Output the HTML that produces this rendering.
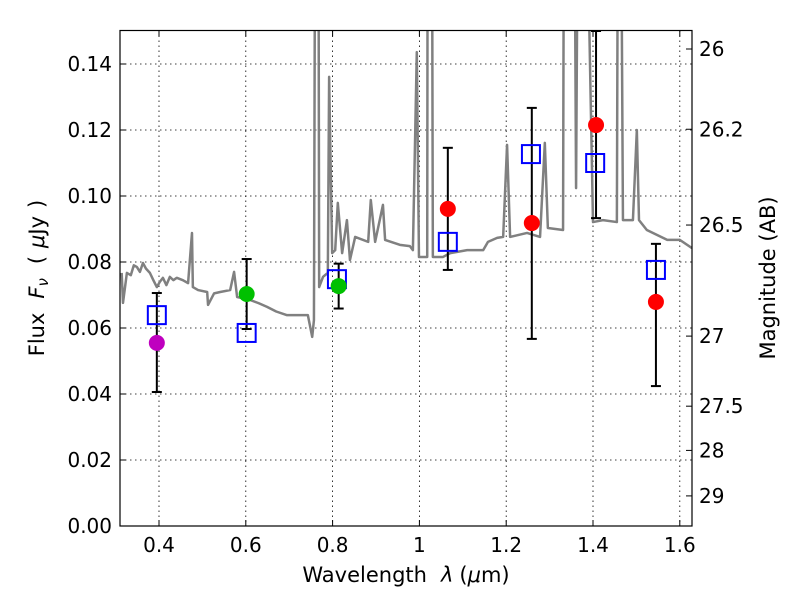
<!DOCTYPE html>
<html><head><meta charset="utf-8"><style>
body{margin:0;background:#fff;}
svg{font-family:"DejaVu Sans","Liberation Sans",sans-serif;}
</style></head><body>
<svg id="chart" width="800" height="600" xmlns="http://www.w3.org/2000/svg">
<defs><clipPath id="pc"><rect x="120" y="30.5" width="572" height="495.5"/></clipPath></defs>
<rect x="0" y="0" width="800" height="600" fill="#fff"/>
<g id="grid"></g>
<g id="spec" clip-path="url(#pc)"></g>
<g id="marks" clip-path="url(#pc)"></g>
<rect x="120" y="30.5" width="572" height="495.5" fill="none" stroke="#000" stroke-width="1.2"/>
<g id="axes"></g>
<text x="406" y="582" font-size="21" text-anchor="middle">Wavelength<tspan dx="14" font-style="italic">λ</tspan><tspan dx="6">(</tspan><tspan font-style="italic">μ</tspan>m)</text>
<text transform="translate(44,278) rotate(-90)" font-size="21" text-anchor="middle">Flux<tspan dx="14" font-style="italic">F</tspan><tspan font-style="italic" font-size="15" dy="4">ν</tspan><tspan dy="-4" dx="14">(</tspan><tspan dx="8" font-style="italic">μ</tspan>Jy<tspan dx="8">)</tspan></text>
<text transform="translate(775,278) rotate(-90)" font-size="21" text-anchor="middle">Magnitude (AB)</text>
</svg>
<script>
const xTicks=[0.4,0.6,0.8,1.0,1.2,1.4,1.6];
const xTickLabels=["0.4","0.6","0.8","1","1.2","1.4","1.6"];
const yTicks=[0,0.02,0.04,0.06,0.08,0.10,0.12,0.14];
const yTickLabels=["0.00","0.02","0.04","0.06","0.08","0.10","0.12","0.14"];
const magTicks=[26,26.2,26.5,27,27.5,28,29];
const magTickLabels=["26","26.2","26.5","27","27.5","28","29"];
const specLam=[0.314,0.317,0.326,0.335,0.342,0.349,0.356,0.363,0.370,0.379,0.387,0.395,0.402,0.409,0.417,0.425,0.433,0.441,0.455,0.467,0.476,0.478,0.490,0.511,0.513,0.527,0.541,0.564,0.573,0.580,0.610,0.630,0.649,0.670,0.695,0.743,0.753,0.757,0.762,0.766,0.769,0.778,0.789,0.792,0.799,0.806,0.812,0.822,0.833,0.840,0.852,0.882,0.888,0.898,0.916,0.921,0.955,0.978,0.985,0.994,0.999,1.018,1.020,1.027,1.031,1.054,1.071,1.110,1.147,1.158,1.179,1.193,1.202,1.209,1.248,1.278,1.289,1.296,1.331,1.335,1.347,1.353,1.361,1.370,1.400,1.423,1.455,1.460,1.469,1.492,1.501,1.506,1.524,1.571,1.600,1.628];
const specFlux=[0.0767,0.0676,0.0767,0.0760,0.0790,0.0785,0.0770,0.0797,0.0780,0.0767,0.0745,0.0724,0.0740,0.0752,0.0730,0.0755,0.0745,0.0752,0.0745,0.0736,0.0888,0.0724,0.0715,0.0709,0.0670,0.0705,0.0709,0.0715,0.0770,0.0694,0.0685,0.0675,0.0664,0.0650,0.0639,0.0639,0.0573,0.0624,0.30,0.30,0.0724,0.0755,0.0767,0.1361,0.0827,0.0836,0.0979,0.0827,0.0927,0.0806,0.0876,0.0861,0.0988,0.0861,0.0973,0.0867,0.0852,0.0848,0.0836,0.1436,0.0815,0.0815,0.30,0.30,0.0815,0.0815,0.0827,0.0836,0.0836,0.0861,0.0873,0.0876,0.1155,0.0876,0.0888,0.0876,0.1161,0.0903,0.0897,0.30,0.30,0.30,0.1024,0.30,0.0921,0.0927,0.0921,0.30,0.0927,0.0927,0.1200,0.0927,0.0897,0.0867,0.0867,0.0842];
const obsLam=[0.395,0.602,0.814,1.0655,1.259,1.407,1.545];
const obsFlux=[0.0555,0.0703,0.0727,0.0961,0.0918,0.1215,0.0679];
const obsColor=["#bf00bf","#00c000","#00c000","#ff0000","#ff0000","#ff0000","#ff0000"];
const errLo=[0.0406,0.0597,0.0659,0.0776,0.0567,0.0933,0.0424];
const errHi=[0.0706,0.0809,0.0795,0.1146,0.1267,0.150,0.0855];
const modLam=[0.395,0.602,0.81,1.0655,1.257,1.405,1.545];
const modFlux=[0.0639,0.0585,0.0748,0.0861,0.1127,0.110,0.0776];

const X=v=>159+(v-0.4)*434;
const Y=v=>526-v*3300;
const magToFlux=m=>Math.pow(10,(23.9-m)/2.5);
const NS="http://www.w3.org/2000/svg";
function mk(tag,attrs,parent){const e=document.createElementNS(NS,tag);for(const k in attrs)e.setAttribute(k,attrs[k]);parent.appendChild(e);return e;}
const grid=document.getElementById('grid'),axes=document.getElementById('axes'),spec=document.getElementById('spec'),marks=document.getElementById('marks');
xTicks.forEach((t,i)=>{
  const x=X(t);
  let g=mk('line',{x1:x,x2:x,y1:30.5,y2:526,stroke:'#000','stroke-width':0.8,'stroke-dasharray':'1.5,3.5'},grid);
  
  
  mk('line',{x1:x,x2:x,y1:526,y2:520,stroke:'#000'},axes);
  mk('line',{x1:x,x2:x,y1:30.5,y2:36.5,stroke:'#000'},axes);
  const tx=mk('text',{x:x,y:552,'font-size':20,'text-anchor':'middle'},axes);
  tx.textContent=xTickLabels[i];
  
  
});
yTicks.forEach((t,i)=>{
  const y=Y(t);
  let g=mk('line',{x1:120,x2:692,y1:y,y2:y,stroke:'#000','stroke-width':0.8,'stroke-dasharray':'1.5,3.5'},grid);
  
  
  mk('line',{x1:120,x2:126,y1:y,y2:y,stroke:'#000'},axes);
  const tx=mk('text',{x:112,y:y+7,'font-size':20,'text-anchor':'end'},axes);
  tx.textContent=yTickLabels[i];
  
  
});
magTicks.forEach((m,i)=>{
  const y=Y(magToFlux(m));
  mk('line',{x1:686,x2:692,y1:y,y2:y,stroke:'#000'},axes);
  const tx=mk('text',{x:699,y:y+7,'font-size':20},axes);
  tx.textContent=magTickLabels[i];
  
  
});
const pl=mk('polyline',{points:specLam.map((l,i)=>X(l)+','+Y(specFlux[i])).join(' '),fill:'none',stroke:'#808080','stroke-width':2.5,'stroke-linejoin':'round'},spec);


obsLam.forEach((l,i)=>{
  const x=X(l),y1=Y(errHi[i]),y2=Y(errLo[i]);
  const e=mk('g',{},marks);
  
  
  mk('line',{x1:x,x2:x,y1:y1,y2:y2,stroke:'#000','stroke-width':2},e);
  mk('line',{x1:x-5,x2:x+5,y1:y1,y2:y1,stroke:'#000','stroke-width':2},e);
  mk('line',{x1:x-5,x2:x+5,y1:y2,y2:y2,stroke:'#000','stroke-width':2},e);
});
modLam.forEach((l,i)=>{
  const r=mk('rect',{x:X(l)-9,y:Y(modFlux[i])-9,width:18,height:18,fill:'none',stroke:'#0000ff','stroke-width':2},marks);
  
  
});
obsLam.forEach((l,i)=>{
  const c=mk('circle',{cx:X(l),cy:Y(obsFlux[i]),r:8,fill:obsColor[i]},marks);
  
  
});
</script>
</body></html>
